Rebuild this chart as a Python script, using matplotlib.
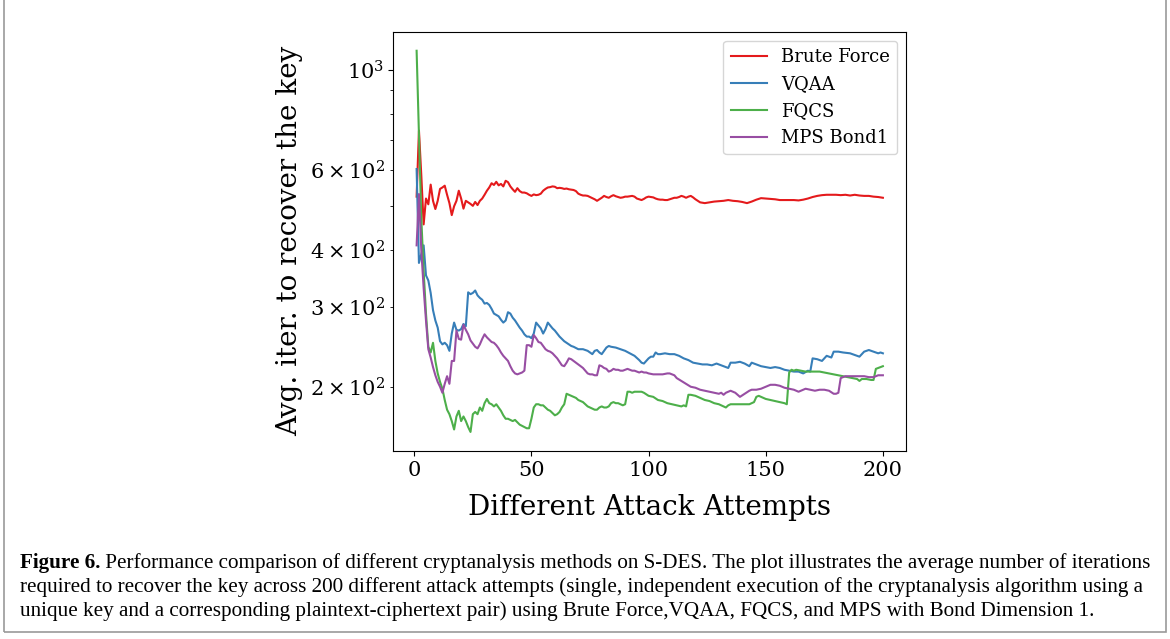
import matplotlib
matplotlib.use("Agg")
import matplotlib.pyplot as plt
from matplotlib.patches import Rectangle

# ---------------- data ----------------
red_x = list(range(1, 121)) + list(range(122, 201, 2))
red_y = [525, 734, 585, 456, 520, 505, 558, 514, 493, 514, 546, 550, 555, 530, 508, 478, 500, 514, 541, 520,
         494, 514, 510, 506, 501, 511, 503, 514, 520, 530, 541, 550, 562, 557, 566, 556, 560, 553, 569, 565,
         553, 545, 538, 548, 540, 536, 536, 534, 530, 527, 531, 529, 530, 533, 541, 546, 550, 551, 553, 552,
         548, 549, 548, 546, 547, 545, 544, 543, 540, 533, 530, 528, 528, 527, 524, 521, 518, 514, 518, 522,
         527, 524, 522, 526, 529, 526, 524, 522, 523, 525, 525, 526, 527, 525, 520, 518, 516, 519, 523, 525,
         524, 523, 520, 518, 517, 517, 516, 516, 518, 520, 522, 522, 524, 527, 525, 522, 525, 527, 523, 518,
         510, 508, 510, 512, 513, 514, 516, 514, 513, 511, 508, 512, 517, 521, 520, 519, 518, 516, 516, 516,
         516, 515, 517, 520, 524, 527, 529, 530, 530, 530, 529, 530, 528, 530, 528, 527, 527, 525, 524, 522]

blue_x = [1, 2, 3, 4, 5, 6, 7, 8, 9, 10, 11, 12, 13, 14, 15, 16, 17, 18, 19, 20,
          21, 22, 23, 24, 25, 26, 27, 28, 29, 30, 31, 32, 33, 34, 35, 36, 37, 38, 39, 40,
          41, 42, 43, 44, 45, 46, 47, 48, 49, 50, 51, 52, 53, 54, 55, 56, 57, 58, 59, 60,
          61, 62, 63, 64, 65, 66, 67, 68, 70, 72, 74, 75, 76, 77, 78, 79, 80, 82, 83, 84,
          86, 88, 90, 92, 94, 96, 97, 98, 99, 100, 101, 102, 103, 104, 105, 107, 109, 111, 113, 115,
          117, 119, 121, 123, 125, 127, 129, 131, 133, 134, 135, 137, 139, 141, 143, 144, 146, 148, 150, 152,
          154, 156, 158, 160, 162, 164, 166, 168, 169, 170, 172, 174, 176, 178, 179, 181, 183, 186, 188, 190,
          192, 194, 196, 198, 199, 200]
blue_y = [604, 375, 392, 410, 352, 343, 322, 295, 280, 270, 252, 248, 250, 247, 240, 262, 277, 267, 266, 268,
          275, 272, 323, 320, 322, 326, 318, 314, 311, 305, 306, 303, 297, 290, 288, 286, 281, 277, 280, 292,
          290, 284, 280, 275, 270, 266, 261, 258, 258, 256, 262, 277, 273, 269, 262, 268, 277, 273, 269, 266,
          262, 258, 255, 252, 250, 248, 246, 245, 242, 242, 240, 238, 236, 240, 241, 238, 236, 244, 246, 245,
          244, 242, 240, 237, 234, 229, 226, 225, 228, 231, 233, 233, 238, 236, 236, 237, 236, 236, 234, 231,
          229, 226, 225, 224, 224, 223, 225, 223, 221, 220, 226, 226, 227, 225, 222, 226, 224, 222, 221, 220,
          221, 220, 218, 217, 216, 216, 214, 217, 216, 231, 230, 228, 234, 232, 239, 239, 238, 237, 235, 233,
          239, 241, 239, 237, 238, 237]

green_x = [1, 2, 3, 4, 5, 6, 7, 8, 9, 10, 11, 12, 13, 14, 15, 16, 17, 18, 19, 20,
           21, 22, 23, 24, 25, 26, 27, 28, 29, 30, 31, 32, 33, 34, 35, 36, 37, 38, 39, 40,
           41, 42, 43, 44, 45, 46, 47, 48, 49, 50, 51, 52, 53, 54, 55, 56, 57, 58, 59, 60,
           61, 62, 63, 64, 65, 66, 67, 68, 69, 70, 71, 72, 73, 74, 75, 76, 77, 78, 79, 80,
           81, 82, 83, 84, 85, 86, 87, 88, 89, 90, 91, 92, 93, 94, 95, 96, 97, 98, 100, 102,
           104, 106, 108, 110, 112, 114, 115, 116, 117, 118, 120, 122, 124, 126, 128, 130, 132, 133, 134, 135,
           137, 139, 141, 143, 145, 146, 147, 148, 150, 152, 154, 156, 158, 159, 160, 161, 162, 163, 165, 167,
           169, 171, 173, 175, 177, 179, 181, 183, 185, 187, 189, 190, 191, 193, 195, 196, 197, 198, 199, 200]
green_y = [1101, 725, 470, 360, 290, 245, 238, 250, 228, 214, 205, 198, 187, 178, 174, 168, 161, 172, 177, 168,
           172, 168, 163, 159, 174, 176, 174, 180, 177, 184, 188, 184, 183, 181, 183, 180, 177, 173, 170, 170,
           169, 168, 169, 167, 165, 164, 163, 162, 162, 170, 180, 183, 183, 182, 182, 180, 178, 177, 175, 173,
           174, 176, 180, 183, 193, 192, 191, 190, 189, 187, 186, 185, 183, 181, 180, 179, 178, 178, 180, 181,
           180, 180, 181, 184, 185, 184, 184, 183, 182, 183, 195, 195, 194, 195, 195, 195, 195, 194, 191, 190,
           187, 186, 184, 183, 182, 181, 182, 181, 192, 192, 191, 189, 187, 186, 184, 183, 181, 180, 182, 183,
           183, 183, 183, 183, 185, 190, 191, 190, 188, 187, 186, 185, 184, 183, 215, 218, 217, 218, 217, 216,
           216, 216, 216, 215, 214, 213, 212, 211, 210, 209, 208, 206, 208, 208, 207, 207, 219, 220, 221, 222]

purple_x = [1, 2, 3, 4, 5, 6, 7, 8, 9, 10, 11, 12, 13, 14, 15, 16, 17, 18, 19, 20,
            21, 22, 23, 24, 25, 26, 27, 28, 29, 30, 31, 32, 33, 34, 35, 36, 37, 38, 39, 40,
            41, 42, 43, 44, 45, 46, 47, 48, 49, 50, 51, 52, 53, 54, 55, 56, 57, 58, 59, 60,
            61, 62, 63, 64, 65, 66, 67, 68, 69, 70, 71, 72, 73, 74, 75, 76, 77, 78, 79, 80,
            81, 82, 83, 84, 85, 86, 87, 88, 89, 90, 91, 92, 93, 94, 95, 96, 97, 98, 99, 100,
            102, 104, 106, 108, 109, 110, 111, 112, 114, 116, 118, 120, 122, 124, 126, 128, 130, 131, 132, 133,
            135, 137, 139, 141, 143, 144, 146, 148, 150, 152, 154, 156, 158, 160, 162, 164, 165, 167, 169, 171,
            173, 175, 177, 179, 180, 181, 182, 184, 186, 188, 190, 192, 194, 196, 198, 200]
purple_y = [410, 532, 400, 330, 280, 242, 232, 221, 212, 205, 200, 194, 203, 211, 203, 228, 228, 266, 255, 254,
            274, 267, 261, 253, 249, 245, 243, 248, 255, 261, 257, 254, 251, 250, 247, 243, 238, 234, 231, 228,
            222, 217, 214, 213, 214, 215, 217, 247, 247, 245, 260, 256, 251, 250, 246, 242, 240, 239, 237, 234,
            231, 227, 223, 222, 226, 231, 230, 228, 226, 224, 222, 220, 217, 214, 213, 213, 212, 212, 223, 222,
            220, 219, 216, 217, 219, 218, 218, 217, 217, 218, 219, 218, 217, 217, 216, 215, 216, 215, 215, 214,
            213, 213, 213, 214, 214, 213, 212, 209, 206, 203, 200, 199, 197, 196, 195, 194, 193, 194, 192, 194,
            196, 194, 190, 193, 196, 197, 197, 198, 200, 202, 202, 201, 199, 198, 197, 195, 196, 198, 197, 196,
            197, 197, 196, 193, 193, 194, 209, 211, 211, 211, 211, 211, 210, 210, 212, 212]

labels = ["Brute Force", "VQAA", "FQCS", "MPS Bond1"]
colors = ["#e41a1c", "#377eb8", "#4daf4a", "#984ea3"]
x_label = "Different Attack Attempts"
y_label = "Avg. iter. to recover the key"
caption_bold = "Figure 6."
caption_line1 = " Performance comparison of different cryptanalysis methods on S-DES. The plot illustrates the average number of iterations"
caption_line2 = "required to recover the key across 200 different attack attempts (single, independent execution of the cryptanalysis algorithm using a"
caption_line3 = "unique key and a corresponding plaintext-ciphertext pair) using Brute Force,VQAA, FQCS, and MPS with Bond Dimension 1."

# ---------------- figure ----------------
plt.rcParams["font.family"] = "DejaVu Serif"
plt.rcParams["mathtext.fontset"] = "dejavuserif"

W, H = 1170, 639
fig = plt.figure(figsize=(W / 100, H / 100), dpi=100)
ax = fig.add_axes([393.3 / W, 1 - 451 / H, (906.2 - 393.3) / W, (451 - 31.7) / H])

series = [(red_x, red_y), (blue_x, blue_y), (green_x, green_y), (purple_x, purple_y)]
for (xs, ys), lab, col in zip(series, labels, colors):
    ax.plot(xs, ys, color=col, lw=1.5, label=lab)

ax.set_yscale("log")
ax.set_xlabel(x_label, fontsize=20, labelpad=10)
ax.set_ylabel(y_label, fontsize=20, labelpad=5)
ax.tick_params(axis="both", which="major", labelsize=15)
ax.tick_params(axis="y", which="minor", labelsize=15)
ax.set_xticks([0, 50, 100, 150, 200])
leg = ax.legend(loc="upper right", fontsize=13, handlelength=2.0)

# caption
cfs = 15.2
cap_kw = dict(family="Liberation Serif", fontsize=cfs, va="baseline")
t_b = fig.text(20 / W, 1 - 568 / H, caption_bold, fontweight="bold", **cap_kw)
ax.annotate(caption_line1, xy=(1, 0), xycoords=t_b, annotation_clip=False,
            va="bottom", ha="left", family="Liberation Serif", fontsize=cfs)
fig.text(20 / W, 1 - 592 / H, caption_line2, **cap_kw)
fig.text(20 / W, 1 - 616 / H, caption_line3, **cap_kw)

# page frame
fig.add_artist(Rectangle((4 / W, 1 - 632 / H), (1166 - 4) / W, 632 / H + 0.05,
                         transform=fig.transFigure, fill=False, edgecolor="#9a9a9a", lw=1.2,
                         clip_on=False))

fig.savefig("out.png", dpi=100)
